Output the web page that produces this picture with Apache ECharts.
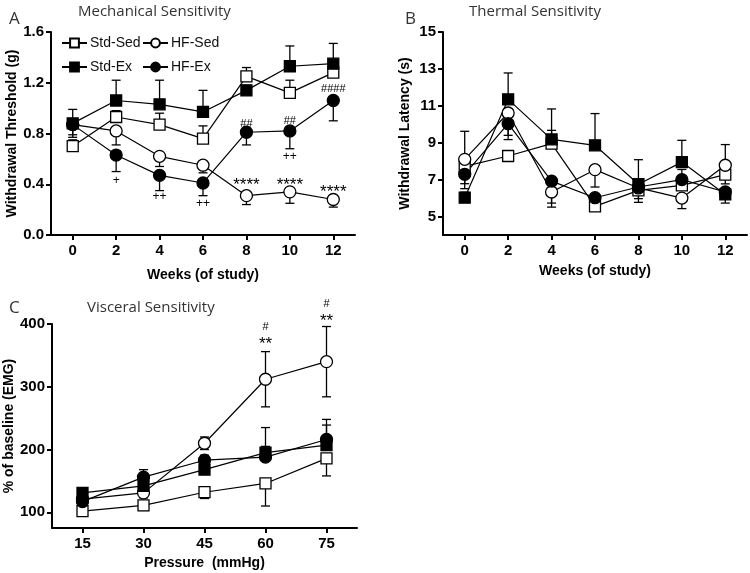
<!DOCTYPE html>
<html>
<head>
<meta charset="utf-8">
<script src="https://cdn.jsdelivr.net/npm/echarts@6/dist/echarts.min.js"></script>
<style>
  html, body { margin: 0; padding: 0; background: #fff; }
  #chart { width: 750px; height: 573px; }
</style>
</head>
<body>
<div id="chart"></div>
<script>
// x values
const weeks = [0, 2, 4, 6, 8, 10, 12];
const pressures = [15, 30, 45, 60, 75];

// A - Mechanical sensitivity, withdrawal threshold (g)
const mechStdSed = [0.70, 0.93, 0.87, 0.76, 1.25, 1.12, 1.28];
const mechStdEx = [0.88, 1.06, 1.03, 0.97, 1.14, 1.33, 1.35];
const mechHfSed = [0.87, 0.82, 0.62, 0.55, 0.31, 0.34, 0.28];
const mechHfEx = [0.87, 0.63, 0.47, 0.41, 0.81, 0.82, 1.06];
// error bars: positive = drawn up, negative = drawn down
const mechStdSedErr = [0.05, 0.05, 0.09, 0.10, 0.07, 0.10, 0.04];
const mechStdExErr = [0.11, 0.16, 0.19, 0.17, 0.04, 0.16, 0.16];
const mechHfSedErr = [-0.10, -0.11, -0.08, -0.06, -0.07, -0.09, -0.06];
const mechHfExErr = [-0.08, -0.13, -0.12, -0.10, -0.10, -0.14, -0.16];
const mechMarks = [
  [2, 0.43, '+'], [4, 0.30, '++'], [6, 0.25, '++'], [10, 0.62, '++'],
  [8, 0.875, '##'], [10, 0.90, '##'], [12, 1.15, '####'],
  [8, 0.395, '****'], [10, 0.395, '****'], [12, 0.335, '****']
];

// B - Thermal sensitivity, withdrawal latency (s)
const thermStdSed = [7.72, 8.28, 8.95, 5.55, 6.42, 6.69, 7.27];
const thermStdEx = [6.02, 11.35, 9.18, 8.86, 6.75, 7.95, 6.20];
const thermHfSed = [8.10, 10.61, 6.33, 7.54, 6.55, 6.00, 7.78];
const thermHfEx = [7.29, 10.03, 6.92, 6.02, 6.60, 7.00, 6.33];
const thermStdSedErr = [-0.94, -0.20, 0.72, -0.15, -0.20, -0.20, -0.50];
const thermStdExErr = [0.30, 1.43, 1.65, 1.72, 1.33, 1.18, -0.47];
const thermHfSedErr = [1.52, -1.44, -0.60, -0.94, -0.58, -0.57, 1.12];
const thermHfExErr = [-0.78, -0.63, -1.41, -0.20, -0.83, 0.55, -0.30];

// C - Visceral sensitivity, % of baseline (EMG)
const viscStdSed = [102, 111, 132, 146, 186];
const viscStdEx = [131, 142, 168, 195, 207];
const viscHfSed = [121, 131, 210, 312, 340];
const viscHfEx = [117, 156, 183, 188, 216];
const viscStdSedErr = [-6, -8, -10, -36, -28];
const viscStdExErr = [8, 10, 12, 10, 32];
const viscHfSedErr = [8, 8, 10, 44, 56]; // drawn both ways
const viscHfExErr = [5, 12, 8, 47, 32];
const viscMarks = [[60, 396, '#'], [60, 368, '**'], [75, 432, '#'], [75, 404, '**']];

let chart = echarts.init(document.getElementById('chart'));

const boldFont = 'Liberation Sans';
const titleFont = 'Open Sans';

const groups = [
  { name: 'Std-Sed', symbol: 'rect', size: 11, fill: '#fff' },
  { name: 'HF-Sed', symbol: 'circle', size: 12, fill: '#fff' },
  { name: 'Std-Ex', symbol: 'rect', size: 11, fill: '#000' },
  { name: 'HF-Ex', symbol: 'circle', size: 12, fill: '#000' }
];

function pairs(xs, ys) {
  return xs.map((x, i) => [x, ys[i]]);
}

// error bar drawing
function errRender(params, api) {
  let x = api.value(0), y = api.value(1), e = api.value(2), both = api.value(3);
  let p = api.coord([x, y]);
  let hi = api.coord([x, y + Math.abs(e)]);
  let lo = api.coord([x, y - Math.abs(e)]);
  let top = p[1], bot = p[1];
  if (both || e > 0) top = hi[1];
  if (both || e < 0) bot = lo[1];
  let w = 4.5;
  let style = { stroke: '#000', lineWidth: 1.3 };
  let children = [{ type: 'line', shape: { x1: p[0], y1: top, x2: p[0], y2: bot }, style: style }];
  if (top !== p[1]) children.push({ type: 'line', shape: { x1: p[0] - w, y1: top, x2: p[0] + w, y2: top }, style: style });
  if (bot !== p[1]) children.push({ type: 'line', shape: { x1: p[0] - w, y1: bot, x2: p[0] + w, y2: bot }, style: style });
  return { type: 'group', children: children };
}

function markText(txt, p) {
  let size = txt.indexOf('*') >= 0 ? 17 : (txt.indexOf('#') >= 0 ? 11 : 12);
  return {
    type: 'text',
    x: p[0], y: p[1],
    style: { text: txt, textAlign: 'center', textVerticalAlign: 'middle', font: size + 'px ' + boldFont, fill: '#000' }
  };
}

let series = [];
function addPanel(idx, xs, vals, errs, bothFlags, marks) {
  groups.forEach((g, k) => {
    let errData = xs.map((x, i) => [x, vals[k][i], errs[k][i], bothFlags[k] ? 1 : 0]);
    series.push({
      type: 'custom', xAxisIndex: idx, yAxisIndex: idx, z: 1, silent: true,
      renderItem: errRender, encode: { x: 0, y: 1 }, data: errData
    });
    series.push({
      name: g.name, type: 'line', xAxisIndex: idx, yAxisIndex: idx, z: 3,
      data: pairs(xs, vals[k]),
      symbol: g.symbol, symbolSize: g.size, showSymbol: true,
      lineStyle: { color: '#000', width: 1.2 },
      itemStyle: { color: g.fill, borderColor: '#000', borderWidth: 1.3 },
      emphasis: { disabled: true }
    });
  });
  series.push({
    type: 'custom', xAxisIndex: idx, yAxisIndex: idx, z: 4, silent: true,
    renderItem: function (params, api) {
      let p = api.coord([api.value(0), api.value(1)]);
      return markText(marks[params.dataIndex][2], p);
    },
    encode: { x: 0, y: 1 },
    data: marks.map(m => [m[0], m[1]])
  });
}

addPanel(0, weeks,
  [mechStdSed, mechHfSed, mechStdEx, mechHfEx],
  [mechStdSedErr, mechHfSedErr, mechStdExErr, mechHfExErr],
  [false, false, false, false], mechMarks);
addPanel(1, weeks,
  [thermStdSed, thermHfSed, thermStdEx, thermHfEx],
  [thermStdSedErr, thermHfSedErr, thermStdExErr, thermHfExErr],
  [false, false, false, false], []);
addPanel(2, pressures,
  [viscStdSed, viscHfSed, viscStdEx, viscHfEx],
  [viscStdSedErr, viscHfSedErr, viscStdExErr, viscHfExErr],
  [false, true, false, false], viscMarks);

const axisLine = { show: true, onZero: false, lineStyle: { color: '#000', width: 2 } };
const axisTick = { show: true, length: 5, lineStyle: { color: '#000', width: 2 } };
const tickLabel = { color: '#000', fontSize: 15, fontWeight: 'bold', fontFamily: boldFont };
const nameStyle = { color: '#000', fontSize: 14, fontWeight: 'bold', fontFamily: boldFont };

function xAxisOf(idx, min, max, ticks, name, gap) {
  return {
    type: 'value', gridIndex: idx, min: min, max: max, name: name,
    nameLocation: 'middle', nameGap: gap, nameTextStyle: nameStyle,
    axisLine: axisLine,
    axisTick: Object.assign({ customValues: ticks }, axisTick),
    axisLabel: Object.assign({ customValues: ticks, margin: 8 }, tickLabel),
    splitLine: { show: false }
  };
}
function yAxisOf(idx, min, max, ticks, name, gap, fmt) {
  return {
    type: 'value', gridIndex: idx, min: min, max: max, name: name,
    nameLocation: 'middle', nameGap: gap, nameTextStyle: nameStyle,
    axisLine: axisLine,
    axisTick: Object.assign({ customValues: ticks }, axisTick),
    axisLabel: Object.assign({ customValues: ticks, margin: 7, formatter: fmt }, tickLabel),
    splitLine: { show: false }
  };
}

const legendBase = {
  selectedMode: false, itemWidth: 25, itemHeight: 11, itemGap: 0,
  textStyle: { fontSize: 14, fontFamily: boldFont, color: '#111', padding: [0, 0, 0, -2] }
};

const titleStyle = { fontSize: 15, fontWeight: 'normal', fontFamily: titleFont, color: '#333' };
const letterStyle = { fontSize: 17, fontWeight: 'normal', fontFamily: titleFont, color: '#333' };

let option = {
  animation: false,
  title: [
    { text: 'A', left: 4, top: 6, textStyle: letterStyle },
    { text: 'Mechanical Sensitivity', left: 73, top: -1, textStyle: titleStyle },
    { text: 'B', left: 400, top: 6, textStyle: letterStyle },
    { text: 'Thermal Sensitivity', left: 464, top: -1, textStyle: titleStyle },
    { text: 'C', left: 4, top: 295, textStyle: letterStyle },
    { text: 'Visceral Sensitivity', left: 82, top: 295, textStyle: titleStyle }
  ],
  legend: [
    Object.assign({ data: ['Std-Sed'], left: 56, top: 31 }, legendBase),
    Object.assign({ data: ['HF-Sed'], left: 137, top: 31 }, legendBase),
    Object.assign({ data: ['Std-Ex'], left: 56, top: 55 }, legendBase),
    Object.assign({ data: ['HF-Ex'], left: 137, top: 55 }, legendBase)
  ],
  grid: [
    { left: 51, top: 32, width: 304, height: 203 },
    { left: 443, top: 32, width: 304, height: 203 },
    { left: 52, top: 324, width: 305, height: 204 }
  ],
  xAxis: [
    xAxisOf(0, -1, 13, weeks, 'Weeks (of study)', 33),
    xAxisOf(1, -1, 13, weeks, 'Weeks (of study)', 29),
    xAxisOf(2, 7.5, 82.5, pressures, 'Pressure  (mmHg)', 28)
  ],
  yAxis: [
    yAxisOf(0, 0, 1.6, [0, 0.4, 0.8, 1.2, 1.6], 'Withdrawal Threshold (g)', 31, v => v.toFixed(1)),
    yAxisOf(1, 4, 15, [5, 7, 9, 11, 13, 15], 'Withdrawal Latency (s)', 31, v => String(v)),
    yAxisOf(2, 75, 400, [100, 200, 300, 400], '% of baseline (EMG)', 34, v => String(v))
  ],
  series: series
};

option && chart.setOption(option);
</script>
</body>
</html>
